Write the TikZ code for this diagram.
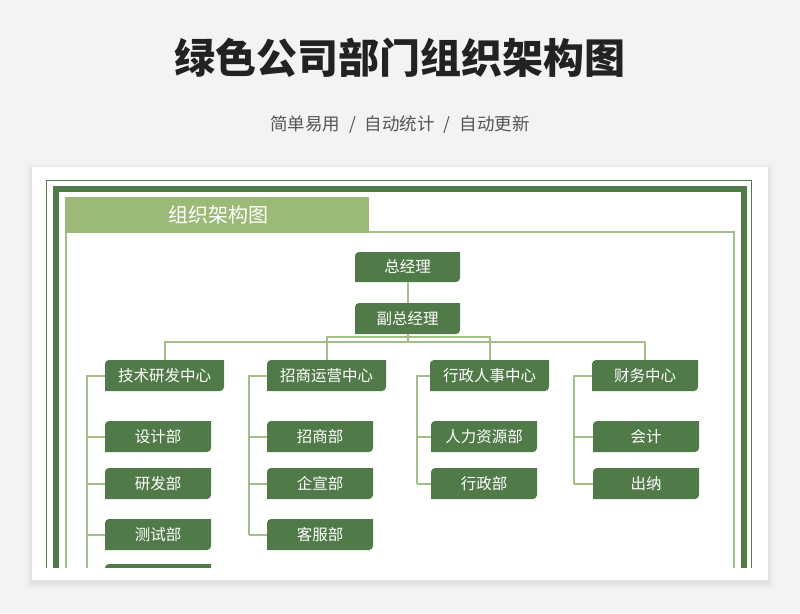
\documentclass[tikz,border=0pt]{standalone}
\usepackage{fontspec}
\setmainfont{Noto Sans CJK SC}
\definecolor{bg}{HTML}{F2F3F5}
\definecolor{dkg}{HTML}{517A49}
\definecolor{ltg}{HTML}{A3BE87}
\definecolor{hdr}{HTML}{9CBA77}
\definecolor{ttl}{HTML}{222222}
\definecolor{sub}{HTML}{555555}
\tikzset{
  box/.style={inner sep=0pt, minimum height=31pt, text=white,
    font=\fontsize{15.5}{16}\selectfont,
    path picture={\fill[dkg] (path picture bounding box.south west)
      -- ([yshift=-4pt]path picture bounding box.north west)
      arc[start angle=180,end angle=90,radius=4pt]
      -- (path picture bounding box.north east)
      -- ([yshift=4pt]path picture bounding box.south east)
      arc[start angle=0,end angle=-90,radius=4pt] -- cycle;}},
  cbox/.style={box, minimum width=119pt},
  sbox/.style={box, minimum width=106pt},
  conn/.style={draw=ltg, line width=2pt},
}
\begin{document}
\begin{tikzpicture}[x=1pt,y=-1pt]
\useasboundingbox (0,0) rectangle (800,613);
\fill[bg] (0,0) rectangle (800,613);
% title
\node[font=\fontsize{41}{41}\selectfont\bfseries, text=ttl] (title) at (400,57.5) {绿色公司部门组织架构图};
\node[font=\fontsize{17.5}{18}\selectfont, text=sub] (subtitle) at (400,125) {简单易用\hspace{9pt}/\hspace{9pt}自动统计\hspace{9pt}/\hspace{9pt}自动更新};
% card shadow and card
\foreach \d/\o in {6/0.015,4/0.02,2/0.03}{
  \fill[black, opacity=\o] (32-\d,167-\d+3) rectangle (768+\d,580+\d+3);
}
\fill[white] (32,167) rectangle (768,580);
\begin{scope}
\clip (32,167) rectangle (768,567);
% frame
\draw[dkg, line width=1.8pt] (46.5,180.5) rectangle (751.5,700);
\draw[dkg, line width=6pt] (56,188.5) rectangle (743.5,700);
\draw[ltg, line width=2pt] (65.5,231.5) rectangle (733.5,700);
\fill[hdr] (65,197) rectangle (369,232.5);
\node[font=\fontsize{20}{20}\selectfont, text=white] (hdrtext) at (218,214.5) {组织架构图};
% nodes
\node[box, minimum width=105pt, minimum height=30pt] (gm) at (407.5,267) {总经理};
\node[box, minimum width=105pt] (vgm) at (407.5,318.5) {副总经理};
\node[cbox] (c1) at (164.5,375.5) {技术研发中心};
\node[cbox] (c2) at (326.5,375.5) {招商运营中心};
\node[cbox] (c3) at (489.5,375.5) {行政人事中心};
\node[box, minimum width=106pt] (c4) at (645,375.5) {财务中心};
\node[sbox] (s11) at (158,436.5) {设计部};
\node[sbox] (s12) at (158,483.5) {研发部};
\node[sbox] (s13) at (158,534.5) {测试部};
\node[sbox] (s14) at (158,579.5) {};
\node[sbox] (s21) at (320,436.5) {招商部};
\node[sbox] (s22) at (320,483.5) {企宣部};
\node[sbox] (s23) at (320,534.5) {客服部};
\node[sbox] (s31) at (484,436.5) {人力资源部};
\node[sbox] (s32) at (484,483.5) {行政部};
\node[sbox] (s41) at (646,436.5) {会计};
\node[sbox] (s42) at (646,483.5) {出纳};
% connectors
\draw[conn] (gm) -- (vgm);
\draw[conn] (vgm.south) -- ++(0,8.5) coordinate (bus);
\draw[conn] (c2.north) -- ++(0,-22.5) -| (c3.north);
\draw[conn] (c1.north) -- ++(0,-17.5) -| (c4.north);
\coordinate (sp1) at (86.5,600);
\coordinate (sp2) at (248.5,534.5);
\coordinate (sp3) at (416.5,483.5);
\coordinate (sp4) at (573.5,483.5);
\draw[conn] (c1.west) -| (sp1);
\draw[conn] (c2.west) -| (sp2);
\draw[conn] (c3.west) -| (sp3);
\draw[conn] (c4.west) -| (sp4);
\foreach \n in {s11,s12,s13,s14}{\draw[conn] (\n.west) -- (\n.west -| sp1);}
\foreach \n in {s21,s22,s23}{\draw[conn] (\n.west) -- (\n.west -| sp2);}
\foreach \n in {s31,s32}{\draw[conn] (\n.west) -- (\n.west -| sp3);}
\foreach \n in {s41,s42}{\draw[conn] (\n.west) -- (\n.west -| sp4);}
\end{scope}
\end{tikzpicture}
\end{document}
